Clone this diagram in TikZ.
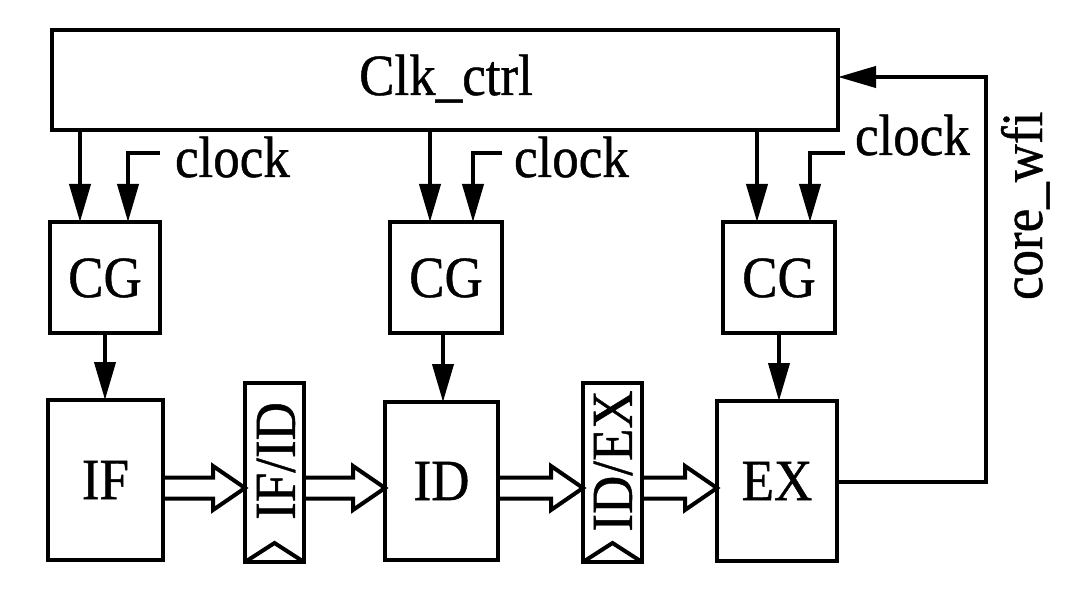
\documentclass[tikz,border=0pt]{standalone}
\usepackage{fontspec}
\usepackage{graphicx}
\setmainfont{Liberation Serif}
\newfontfamily\dfont{Liberation Serif}[FakeBold=0.8]
\usetikzlibrary{arrows.meta,calc}
\newcommand\tx[1]{\scalebox{1}[1.1]{#1}}
\begin{document}
\begin{tikzpicture}[x=1pt,y=-1pt,
  line width=4pt, line join=miter,
  box/.style={draw, rectangle, inner sep=0pt, outer sep=0pt, font=\dfont\fontsize{53}{60}\selectfont},
  lbl/.style={inner sep=0pt, outer sep=0pt, font=\dfont\fontsize{53}{60}\selectfont},
  arr/.style={-{Triangle[length=38pt,width=21pt]}},
  hollow/.style={line width=4pt, line join=miter}
]
\useasboundingbox (0,0) rectangle (1080,596);

% main blocks
\node[box, minimum width=786pt, minimum height=100pt] (clk) at (445,80) {};
\node[lbl, anchor=base] (clkt) at (446,95) {\tx{Clk\_ctrl}};

\node[box, minimum width=110pt, minimum height=111pt] (cg1) at (105,278) {\tx{CG}};
\node[box, minimum width=112pt, minimum height=111pt] (cg2) at (446,278) {\tx{CG}};
\node[box, minimum width=112pt, minimum height=111pt] (cg3) at (779,278) {\tx{CG}};

\node[box, minimum width=115pt, minimum height=160pt] (if) at (105.5,480) {\tx{IF}};
\node[box, minimum width=113pt, minimum height=158pt] (id) at (441.5,481) {\tx{ID}};
\node[box, minimum width=120pt, minimum height=160pt] (ex) at (777,481) {\tx{EX}};

% pipeline registers
\node[box, minimum width=59pt, minimum height=179pt] (ifid) at (274.5,472.5) {};
\node[box, minimum width=59pt, minimum height=179pt] (idex) at (612.5,472.5) {};
\node[lbl, rotate=90] (ifidt) at (276,461) {\tx{IF/ID}};
\node[lbl, rotate=90] (idext) at (613,461) {\tx{ID/EX}};
\draw (ifid.south west) -- ($(ifid.south)+(0,-19)$) -- (ifid.south east);
\draw (idex.south west) -- ($(idex.south)+(0,-19)$) -- (idex.south east);

% clk_ctrl -> CG
\coordinate (c1a) at (80,222);
\coordinate (c2a) at (430,222);
\coordinate (c3a) at (757,222);
\draw[arr] (clk.south -| c1a) -- (c1a);
\draw[arr] (clk.south -| c2a) -- (c2a);
\draw[arr] (clk.south -| c3a) -- (c3a);

% clock inputs
\coordinate (c1b) at (128,222);
\coordinate (c2b) at (473,222);
\coordinate (c3b) at (810,222);
\coordinate (k1) at (160,153);
\coordinate (k2) at (502,153);
\coordinate (k3) at (845,153);
\draw[arr] (k1) -| (c1b);
\draw[arr] (k2) -| (c2b);
\draw[arr] (k3) -| (c3b);
\node[lbl, anchor=base west] (t1) at (175,177) {\tx{clock}};
\node[lbl, anchor=base west] (t2) at (514,177) {\tx{clock}};
\node[lbl, anchor=base west] (t3) at (855,155) {\tx{clock}};

% CG -> stages
\draw[arr] (cg1.south) -- (cg1.south |- if.north);
\draw[arr] ($(cg2.south)+(-3,0)$) -- ($(cg2.south |- id.north)+(-3,0)$);
\draw[arr] (cg3.south) -- (cg3.south |- ex.north);

% hollow data arrows
\coordinate (yh) at (0,488);
\newcommand\hollowarrow[2]{%
  \draw[hollow] ($(#1)+(0,-10.5)$) -- ($(#2)+(-32,-10.5)$) -- ($(#2)+(-32,-22)$)
    -- (#2) -- ($(#2)+(-32,22)$) -- ($(#2)+(-32,10.5)$) -- ($(#1)+(0,10.5)$);}
\coordinate (h1a) at (if.east |- yh);
\coordinate (h1b) at (ifid.west |- yh);
\coordinate (h2a) at (ifid.east |- yh);
\coordinate (h2b) at (id.west |- yh);
\coordinate (h3a) at (id.east |- yh);
\coordinate (h3b) at (idex.west |- yh);
\coordinate (h4a) at (idex.east |- yh);
\coordinate (h4b) at (ex.west |- yh);
\hollowarrow{h1a}{h1b}
\hollowarrow{h2a}{h2b}
\hollowarrow{h3a}{h3b}
\hollowarrow{h4a}{h4b}

% core_wfi feedback
\coordinate (w1) at (986,482);
\coordinate (w2) at (986,77);
\draw[arr] (ex.east |- w1) -- (w1) -- (w2) -- (clk.east |- w2);
\node[lbl, rotate=90, anchor=base west] (wfi) at (1042,300) {\tx{core\_wfi}};
\end{tikzpicture}
\end{document}
